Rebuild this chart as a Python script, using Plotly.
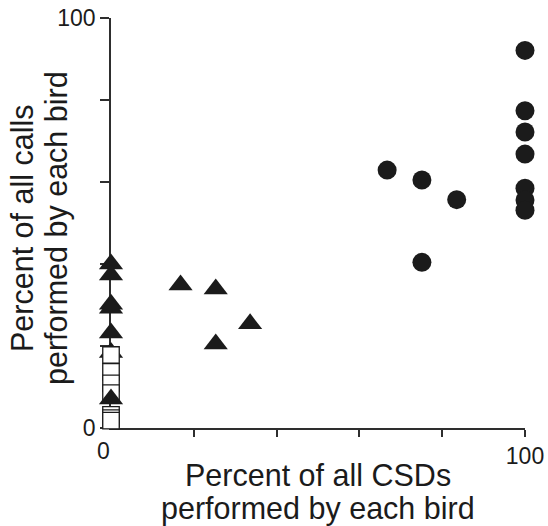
import plotly.graph_objects as go

# ---- data ----
# filled circles
circle_x = [66.7, 75.1, 83.5, 75.1, 100, 100, 100, 100, 100, 100, 100]
circle_y = [62.9, 60.5, 55.7, 40.4, 92.1, 77.4, 72.2, 66.8, 58.5, 55.6, 53.1]

# filled triangles (one drawn behind the open squares)
tri_back_x = [0]
tri_back_y = [18.4]
tri_x = [16.8, 25.3, 33.6, 25.3, 0, 0, 0, 0, 0, 0]
tri_y = [34.9, 33.9, 25.4, 20.5, 40.0, 37.3, 30.2, 29.2, 23.2, 7.1]

# open squares
sq_x = [0, 0, 0, 0, 0, 0, 0]
sq_y = [17.8, 13.7, 10.9, 8.5, 3.2, 2.4, 1.8]

x_tick_vals = [20, 40, 60, 80, 100]
x_tick_text = ["", "", "", "", "100"]
y_tick_vals = [0, 20, 40, 60, 80, 100]
y_tick_text = ["0", "", "", "", "", "100"]

INK = "#1b1b1b"
AXIS = "#2e2e2e"
FONT = "Liberation Sans, Arial, sans-serif"

W, H = 548, 526
L, R, T, B = 111, 23, 17.5, 97.5
pw, ph = W - L - R, H - T - B


def px_x(p):
    return (p - L) / pw


def px_y(p):
    return (H - B - p) / ph


fig = go.Figure()
fig.add_trace(go.Scatter(x=tri_back_x, y=tri_back_y, mode="markers", cliponaxis=False,
                         marker=dict(symbol="triangle-up", size=21, color=INK, line=dict(width=0))))
fig.add_trace(go.Scatter(x=sq_x, y=sq_y, mode="markers", cliponaxis=False,
                         marker=dict(symbol="square", size=16.5, color="white",
                                     line=dict(width=1.3, color=INK))))
fig.add_trace(go.Scatter(x=tri_x, y=tri_y, mode="markers", cliponaxis=False,
                         marker=dict(symbol="triangle-up", size=21, color=INK, line=dict(width=0))))
fig.add_trace(go.Scatter(x=circle_x, y=circle_y, mode="markers", cliponaxis=False,
                         marker=dict(symbol="circle", size=19, color=INK, line=dict(width=0))))

axis_common = dict(showgrid=False, zeroline=False, showline=True, linecolor=AXIS, linewidth=1.6,
                   ticks="outside", tickcolor=AXIS, tickwidth=1.6, layer="below traces",
                   automargin=False,
                   tickfont=dict(family=FONT, size=23, color=INK))

fig.update_xaxes(range=[0, 100], tickmode="array", tickvals=x_tick_vals, ticktext=x_tick_text,
                 ticklen=7, **axis_common)
fig.update_yaxes(range=[0, 100], tickmode="array", tickvals=y_tick_vals, ticktext=y_tick_text,
                 ticklen=9, **axis_common)

ann_font = dict(family=FONT, size=30.5, color=INK)
annotations = [
    dict(x=0, y=0, xref="x", yref="y", text="0", showarrow=False, xshift=-8, yshift=-23,
         font=dict(family=FONT, size=23, color=INK), xanchor="center", yanchor="middle"),
    dict(x=px_x(318), y=px_y(476), xref="paper", yref="paper", text="Percent of all CSDs",
         showarrow=False, font=ann_font, xanchor="center", yanchor="middle"),
    dict(x=px_x(318), y=px_y(509), xref="paper", yref="paper", text="performed by each bird",
         showarrow=False, font=ann_font, xanchor="center", yanchor="middle"),
    dict(x=px_x(22), y=px_y(228), xref="paper", yref="paper", text="Percent of all calls",
         showarrow=False, textangle=-90, font=ann_font, xanchor="center", yanchor="middle"),
    dict(x=px_x(57), y=px_y(228), xref="paper", yref="paper", text="performed by each bird",
         showarrow=False, textangle=-90, font=ann_font, xanchor="center", yanchor="middle"),
]

fig.update_layout(
    width=W, height=H,
    margin=dict(l=L, r=R, t=T, b=B, pad=0, autoexpand=False),
    paper_bgcolor="white", plot_bgcolor="white",
    showlegend=False,
    annotations=annotations,
    font=dict(family=FONT, color=INK),
)

fig.write_html("out.html", config={"responsive": False})
